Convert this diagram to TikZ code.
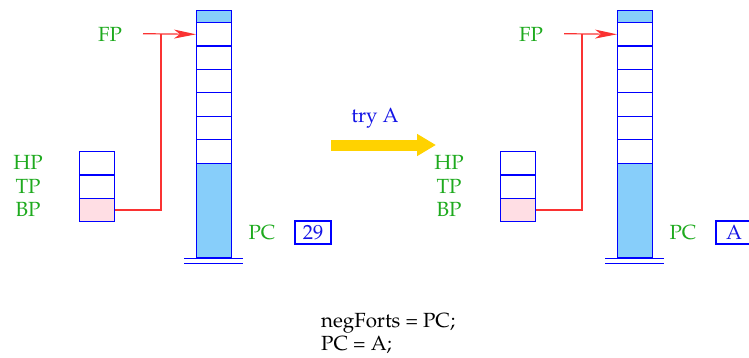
\documentclass[tikz,border=0pt]{standalone}
\usepackage[T1]{fontenc}
\usepackage{mathpazo}
\usetikzlibrary{arrows.meta}

\definecolor{lblgreen}{RGB}{30,170,30}
\definecolor{stkblue}{RGB}{0,0,255}
\definecolor{txtblue}{RGB}{20,20,230}
\definecolor{skyfill}{RGB}{135,206,250}
\definecolor{pinkfill}{RGB}{255,222,228}
\definecolor{ptrred}{RGB}{250,50,50}
\definecolor{arrowgold}{RGB}{255,210,0}

\tikzset{
  every node/.style={font=\fontsize{20.5}{24}\selectfont},
  cell/.style={draw=stkblue, line width=1.2pt, minimum width=35pt,
    minimum height=23.43pt, inner sep=0pt, anchor=north west, text=txtblue},
  skycell/.style={cell, fill=skyfill},
  regcell/.style={cell, minimum height=23.33pt},
  lbl/.style={text=lblgreen, inner sep=0pt},
  valbox/.style={draw=stkblue, line width=1.2pt, minimum width=36pt,
    minimum height=23pt, inner sep=0pt, text=txtblue},
  ground/.style={draw=stkblue, line width=1.2pt},
  ptr/.style={draw=ptrred, line width=1.2pt},
  ptrtip/.style={ptr, -{Stealth[length=22pt, width=9pt, inset=6pt]}},
}

% one machine state: #1 name prefix, #2 horizontal shift,
% #3 contents of the seventh stack slot, #4 contents of PC
\newcommand{\machinestate}[4]{%
  \begin{scope}[xshift=#2]
    % stack
    \node[skycell, minimum height=12pt] (#1top) at (196,10) {};
    \foreach \i in {1,...,6}
      \node[cell] (#1c\i) at (196,{22+(\i-1)*23.43}) {};
    \node[cell] (#1c7) at (196,{22+6*23.43}) {#3};
    \node[skycell, minimum height=94.4pt] (#1base) at (196,162.6) {};
    \draw[ground] ([xshift=-12pt]#1base.south west) -- ([xshift=11pt]#1base.south east);
    \draw[ground] ([xshift=-12pt,yshift=-5pt]#1base.south west) -- ([xshift=11pt,yshift=-5pt]#1base.south east);
    % registers
    \node[regcell] (#1hp) at (79,151) {};
    \node[regcell] (#1tp) at (79,174.33) {};
    \node[regcell, fill=pinkfill] (#1bp) at (79,197.67) {};
    \node[lbl] (#1hplbl) at (28,162.6) {HP};
    \node[lbl] (#1tplbl) at (28,186) {TP};
    \node[lbl] (#1bplbl) at (28,209.3) {BP};
    % frame pointer
    \node[lbl] (#1fplbl) at (110,34) {FP};
    \coordinate (#1fpstart) at (143,33.7);
    \coordinate (#1join) at (161,33.7);
    \draw[ptr] (#1bp.east) -| (#1join);
    \draw[ptrtip] (#1fpstart) -- (#1c1.west);
    % program counter
    \node[lbl] (#1pclbl) at (262,233) {PC};
    \node[valbox] (#1pc) at (313,232.5) {#4};
  \end{scope}}

\begin{document}
\begin{tikzpicture}[x=1pt, y=-1pt]
  \useasboundingbox (0,0) rectangle (749,357);

  \machinestate{L}{0pt}{}{29}
  \machinestate{R}{421pt}{29}{A}

  % transition
  \node[text=txtblue, anchor=base] (trylbl) at (375,122) {try A};
  \coordinate (trystart) at (331,145);
  \coordinate (tryend) at (436,145);
  \draw[arrowgold, line width=11pt, -{Triangle[length=19pt, width=21pt]}] (trystart) -- (tryend);

  % code executed
  \node[anchor=base west, inner sep=0pt] (code1) at (321,327) {negForts = PC;};
  \node[anchor=base west, inner sep=0pt] (code2) at (321,350) {PC = A;};
\end{tikzpicture}
\end{document}
